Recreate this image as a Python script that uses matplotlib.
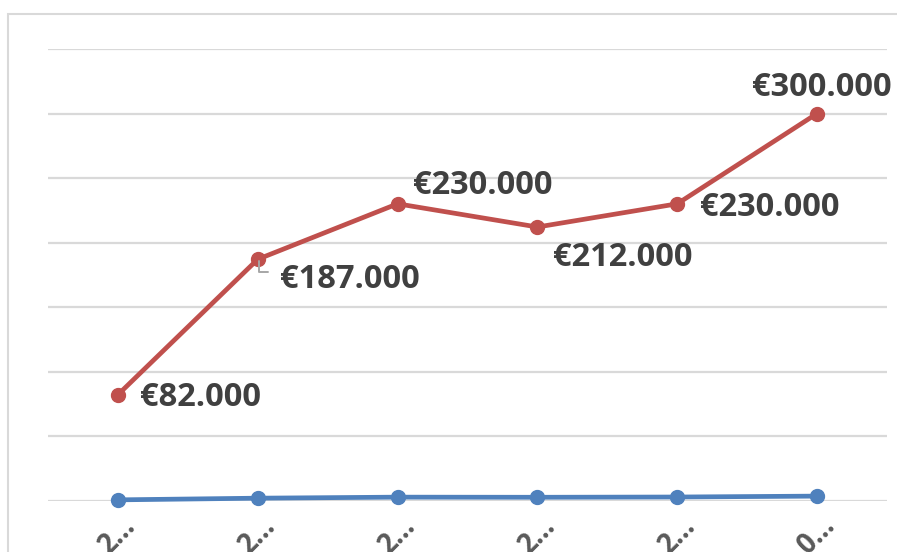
import numpy as np
import matplotlib.pyplot as plt
from matplotlib.patches import Rectangle

# ==========================================================
# DATA
# ==========================================================
categories = ["2…", "2…", "2…", "2…", "2…", "0…"]
red_values = [82000, 187000, 230000, 212000, 230000, 300000]
blue_values = [500, 1800, 2600, 2500, 2700, 3400]
red_labels = ["€82.000", "€187.000", "€230.000", "€212.000", "€230.000", "€300.000"]

# label offsets (points) and alignment per point
label_pos = [
    ((16, -2), "left"),
    ((16, -14.5), "left"),
    ((11, 13), "left"),
    ((11.5, -22), "left"),
    ((16.5, -2.5), "left"),
    ((3.6, 19), "center"),
]

RED = "#C0504D"
BLUE = "#4F81BD"
GRID = "#D9D9D9"
TXT = "#404040"
FONT = ["Open Sans", "DejaVu Sans"]

W, H = 897, 552
fig = plt.figure(figsize=(W / 100, H / 100), dpi=100)

# chart border (only top/left visible in the picture)
fig.patches.append(Rectangle((8 / W, -0.1), 1.2, 1 - 14 / H + 0.1,
                             transform=fig.transFigure, fill=False,
                             edgecolor=GRID, lw=1.5))

left, right = 48 / W, 887 / W
bottom, top = 1 - 500.5 / H, 1 - 49 / H
ax = fig.add_axes([left, bottom, right - left, top - bottom])

x = np.arange(len(categories))
ax.set_xlim(-0.5, len(categories) - 0.5)
ax.set_ylim(0, 350000)
ax.set_yticks(np.arange(0, 350001, 50000))
ax.yaxis.grid(True, color=GRID, lw=1.6)
ax.set_axisbelow(True)
for s in ax.spines.values():
    s.set_visible(False)
ax.tick_params(axis="y", left=False, labelleft=False)
ax.tick_params(axis="x", bottom=False, pad=4.5)

ax.set_xticks(x)
ax.set_xticklabels(categories, rotation=45, ha="center", va="top",
                   fontsize=20, color="#595959", family=FONT, fontweight="bold")

ax.plot(x, blue_values, color=BLUE, lw=3.4, marker="o", ms=10, clip_on=False, zorder=3)
ax.plot(x, red_values, color=RED, lw=3.4, marker="o", ms=10, clip_on=False, zorder=3)

for i, (v, t) in enumerate(zip(red_values, red_labels)):
    (dx, dy), ha = label_pos[i]
    ax.annotate(t, (x[i], v), xytext=(dx, dy), textcoords="offset points",
                ha=ha, va="center", fontsize=23.5, fontweight="bold", color=TXT,
                family=FONT, zorder=4)

# leader line for the second label
ax.annotate("", (x[1] + 0.01, red_values[1] - 1500), xytext=(x[1] + 0.07, red_values[1] - 10000),
            arrowprops=dict(arrowstyle="-", color="#A6A6A6", lw=1.4,
                            connectionstyle="angle,angleA=0,angleB=90,rad=0",
                            shrinkA=0, shrinkB=0))

fig.savefig("out.png", dpi=100)
